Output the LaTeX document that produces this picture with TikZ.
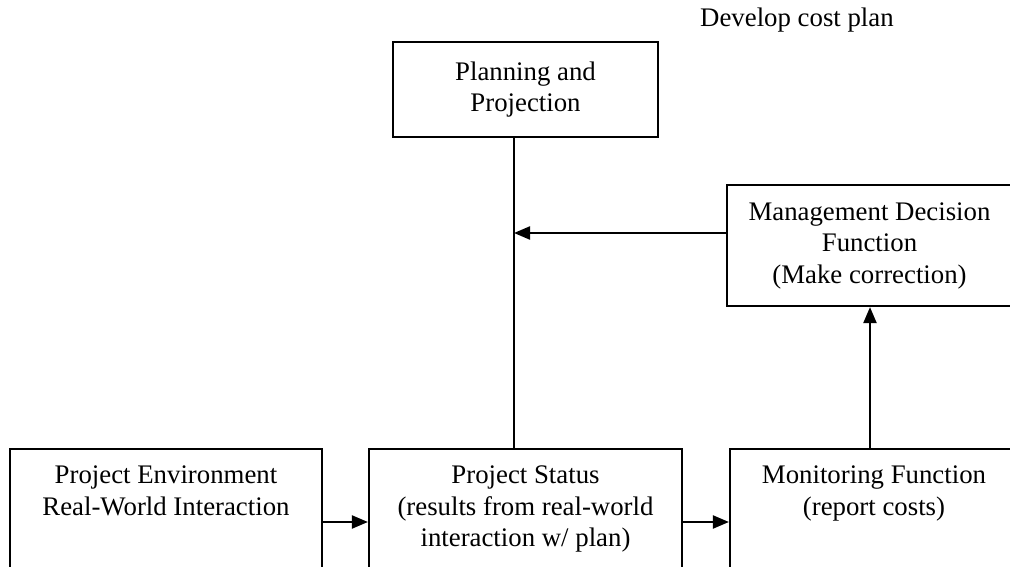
\documentclass[tikz,border=0pt]{standalone}
\usepackage{fontspec}
\setmainfont{Liberation Serif}
\usetikzlibrary{arrows.meta}
\begin{document}
\begin{tikzpicture}[x=1pt,y=-1pt,
  every node/.style={font=\fontsize{26.8}{31.5}\selectfont},
  boxnode/.style={draw,line width=2.2pt,rectangle,inner sep=0pt,align=center},
  txt/.style={inner sep=0pt,align=center},
  conn/.style={line width=2.2pt},
  arr/.style={line width=2.2pt,-{Triangle[length=16pt,width=13pt]}}]
\useasboundingbox (0,0) rectangle (1010,567);
\node[boxnode,minimum width=265pt,minimum height=95pt] (planning) at (525.5,89.5) {Planning and\\Projection};
\node[boxnode,minimum width=285pt,minimum height=121pt] (mgmt) at (869.5,245.5) {Management Decision\\Function\\(Make correction)};
\node[boxnode,minimum width=312pt,minimum height=171pt] (env) at (166,534.5) {};
\node[boxnode,minimum width=313pt,minimum height=171pt] (status) at (525.5,534.5) {};
\node[boxnode,minimum width=288pt,minimum height=171pt] (monitor) at (874,534.5) {};
\node[txt,anchor=north] (envtext) at ([yshift=-18pt]env.north) {Project Environment\\Real-World Interaction};
\node[txt,anchor=north] (statustext) at ([yshift=-18pt]status.north) {Project Status\\(results from real-world\\interaction w/ plan)};
\node[txt,anchor=north] (monitortext) at ([yshift=-18pt]monitor.north) {Monitoring Function\\(report costs)};
\node[txt,anchor=base west] (develop) at (700,27) {Develop cost plan};
\coordinate (vx) at (514,0);
\coordinate (join) at (514,233);
\coordinate (ux) at (870,0);
\coordinate (by) at (0,522);
\draw[conn] (vx |- planning.south) -- (vx |- status.north);
\draw[arr] (mgmt.west |- join) -- (join);
\draw[arr] (ux |- monitor.north) -- (ux |- mgmt.south);
\draw[arr] (env.east |- by) -- (status.west |- by);
\draw[arr] (status.east |- by) -- (monitor.west |- by);
\end{tikzpicture}
\end{document}
